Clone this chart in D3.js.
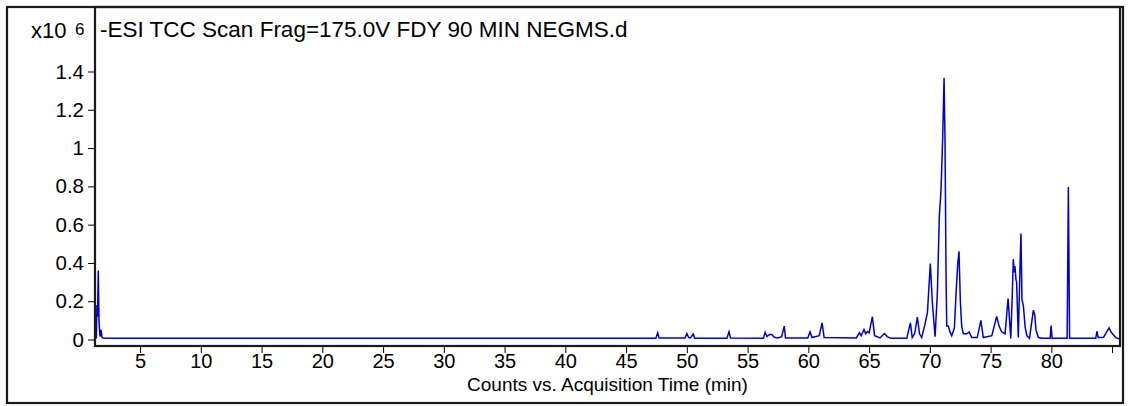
<!DOCTYPE html>
<html>
<head>
<meta charset="utf-8">
<script src="https://cdn.jsdelivr.net/npm/d3@7"></script>
<style>
  html, body { margin: 0; padding: 0; background: #ffffff; }
  svg { display: block; }
  text { font-family: "Liberation Sans", Arial, sans-serif; fill: #000; }
</style>
</head>
<body>
<svg id="chart" width="1129" height="406"></svg>
<script>
// Total compound chromatogram, negative ESI scan
const titleText = "-ESI TCC Scan Frag=175.0V FDY 90 MIN NEGMS.d";
const xAxisTitle = "Counts vs. Acquisition Time (min)";

// Acquisition time (min) of each trace vertex
const retentionTimes = [
  1.40, 1.45, 1.50, 1.56, 1.62, 1.66, 1.71, 1.79, 1.87, 2.00,
  47.45, 47.60, 47.72,
  49.85, 50.00, 50.15, 50.30, 50.53, 50.65,
  53.30, 53.47, 53.60,
  56.30, 56.44, 56.60, 56.80, 56.99, 57.20, 57.50, 57.80, 58.02, 58.12,
  59.95, 60.14, 60.30, 60.90, 61.13, 61.30,
  63.95, 64.20, 64.35, 64.58, 64.72, 64.86, 65.00, 65.27, 65.45, 65.90, 66.26, 66.50, 66.80,
  68.10, 68.40, 68.55, 68.75, 68.97, 69.15, 69.33, 69.60, 69.80, 70.04, 70.20, 70.43,
  70.62, 70.78, 70.92, 71.06, 71.17, 71.25, 71.33, 71.39, 71.52, 71.65, 71.80,
  72.02, 72.16, 72.30, 72.40, 72.51, 72.62, 72.76, 73.04, 73.23, 73.45,
  73.90, 74.20, 74.40, 75.10, 75.50, 75.70, 75.90, 76.19, 76.44, 76.66,
  76.79, 76.87, 76.95, 77.00, 77.09, 77.14, 77.28, 77.42, 77.50, 77.58, 77.70, 77.84, 77.98,
  78.20, 78.52, 78.63, 78.74, 78.93, 79.20,
  79.90, 79.98, 80.06,
  81.30, 81.40, 81.50,
  83.65, 83.76, 83.85, 84.30, 84.75, 84.90, 85.10, 85.30, 85.50, 85.65
];

// Counts at each vertex, in units of 10^6
const countsE6 = [
  0.005, 0.180, 0.120, 0.360, 0.100, 0.050, 0.015, 0.050, 0.010, 0.006,
  0.006, 0.035, 0.008,
  0.008, 0.031, 0.010, 0.008, 0.028, 0.007,
  0.006, 0.040, 0.008,
  0.006, 0.037, 0.015, 0.026, 0.026, 0.012, 0.008, 0.015, 0.070, 0.008,
  0.008, 0.040, 0.010, 0.020, 0.087, 0.010,
  0.008, 0.035, 0.020, 0.052, 0.030, 0.042, 0.035, 0.119, 0.020, 0.008, 0.031, 0.015, 0.006,
  0.006, 0.087, 0.010, 0.030, 0.117, 0.030, 0.010, 0.080, 0.140, 0.397, 0.200, 0.014,
  0.244, 0.644, 0.780, 1.060, 1.367, 1.030, 0.350, 0.070, 0.070, 0.040, 0.020,
  0.060, 0.245, 0.400, 0.460, 0.200, 0.070, 0.030, 0.030, 0.040, 0.010,
  0.010, 0.100, 0.010, 0.020, 0.120, 0.070, 0.040, 0.030, 0.214, 0.005,
  0.244, 0.420, 0.350, 0.383, 0.313, 0.300, 0.010, 0.375, 0.554, 0.209, 0.174, 0.066, 0.020,
  0.006, 0.153, 0.130, 0.050, 0.010, 0.006,
  0.006, 0.073, 0.006,
  0.006, 0.796, 0.006,
  0.006, 0.043, 0.010, 0.012, 0.061, 0.040, 0.025, 0.010, 0.005, 0.004
];

const xTickValues = [5, 10, 15, 20, 25, 30, 35, 40, 45, 50, 55, 60, 65, 70, 75, 80, 85];
const xTickLabels = ["5", "10", "15", "20", "25", "30", "35", "40", "45", "50", "55", "60", "65", "70", "75", "80", ""];
const yTickValues = [0, 0.2, 0.4, 0.6, 0.8, 1.0, 1.2, 1.4];
const yTickLabels = ["0", "0.2", "0.4", "0.6", "0.8", "1", "1.2", "1.4"];

const svg = d3.select("#chart");
const plot = { left: 95, top: 7, right: 1120, bottom: 346 };

const x = d3.scaleLinear().domain([1.29, 85.65]).range([plot.left, plot.right]);
const y = d3.scaleLinear().domain([-0.034, 1.737]).range([plot.bottom, plot.top]);

// outer frame
svg.append("rect")
  .attr("x", 7).attr("y", 7).attr("width", 1116).attr("height", 396)
  .attr("fill", "none").attr("stroke", "#1a1a1a").attr("stroke-width", 2.2);

svg.append("clipPath").attr("id", "plotClip")
  .append("rect")
  .attr("x", plot.left).attr("y", plot.top)
  .attr("width", plot.right - plot.left).attr("height", plot.bottom - plot.top);

// trace
const points = retentionTimes.map((t, i) => [t, countsE6[i]]);
const line = d3.line().x(d => x(d[0])).y(d => y(d[1]));
svg.append("path")
  .datum(points)
  .attr("clip-path", "url(#plotClip)")
  .attr("d", line)
  .attr("fill", "none")
  .attr("stroke", "#0000cc")
  .attr("stroke-width", 1.5)
  .attr("stroke-linejoin", "miter");

// axes
const xAxis = d3.axisBottom(x)
  .tickValues(xTickValues)
  .tickFormat((d, i) => xTickLabels[i])
  .tickSize(6).tickPadding(1);
const gx = svg.append("g").attr("transform", `translate(0,${plot.bottom + 1})`).call(xAxis);
gx.select(".domain").remove();
gx.selectAll("line").attr("stroke", "#000").attr("stroke-width", 1);
gx.selectAll("text").attr("font-size", 20).attr("font-family", "Liberation Sans, Arial, sans-serif").attr("fill", "#000");

const yAxis = d3.axisLeft(y)
  .tickValues(yTickValues)
  .tickFormat((d, i) => yTickLabels[i])
  .tickSize(6).tickPadding(4);
const gy = svg.append("g").attr("transform", `translate(${plot.left - 1},0)`).call(yAxis);
gy.select(".domain").remove();
gy.selectAll("line").attr("stroke", "#000").attr("stroke-width", 1);
gy.selectAll("text").attr("font-size", 20.5).attr("font-family", "Liberation Sans, Arial, sans-serif").attr("fill", "#000");

// plot frame
svg.append("rect")
  .attr("x", plot.left).attr("y", plot.top)
  .attr("width", plot.right - plot.left).attr("height", plot.bottom - plot.top)
  .attr("fill", "none").attr("stroke", "#1a1a1a").attr("stroke-width", 2.2);

// texts
svg.append("text").attr("x", 100).attr("y", 37).attr("font-size", 22.5).text(titleText);
svg.append("text").attr("x", 31).attr("y", 38).attr("font-size", 22).text("x10");
svg.append("text").attr("x", 75).attr("y", 35).attr("font-size", 17).text("6");
svg.append("text").attr("x", (plot.left + plot.right) / 2).attr("y", 391)
  .attr("text-anchor", "middle").attr("font-size", 19).text(xAxisTitle);
</script>
</body>
</html>
